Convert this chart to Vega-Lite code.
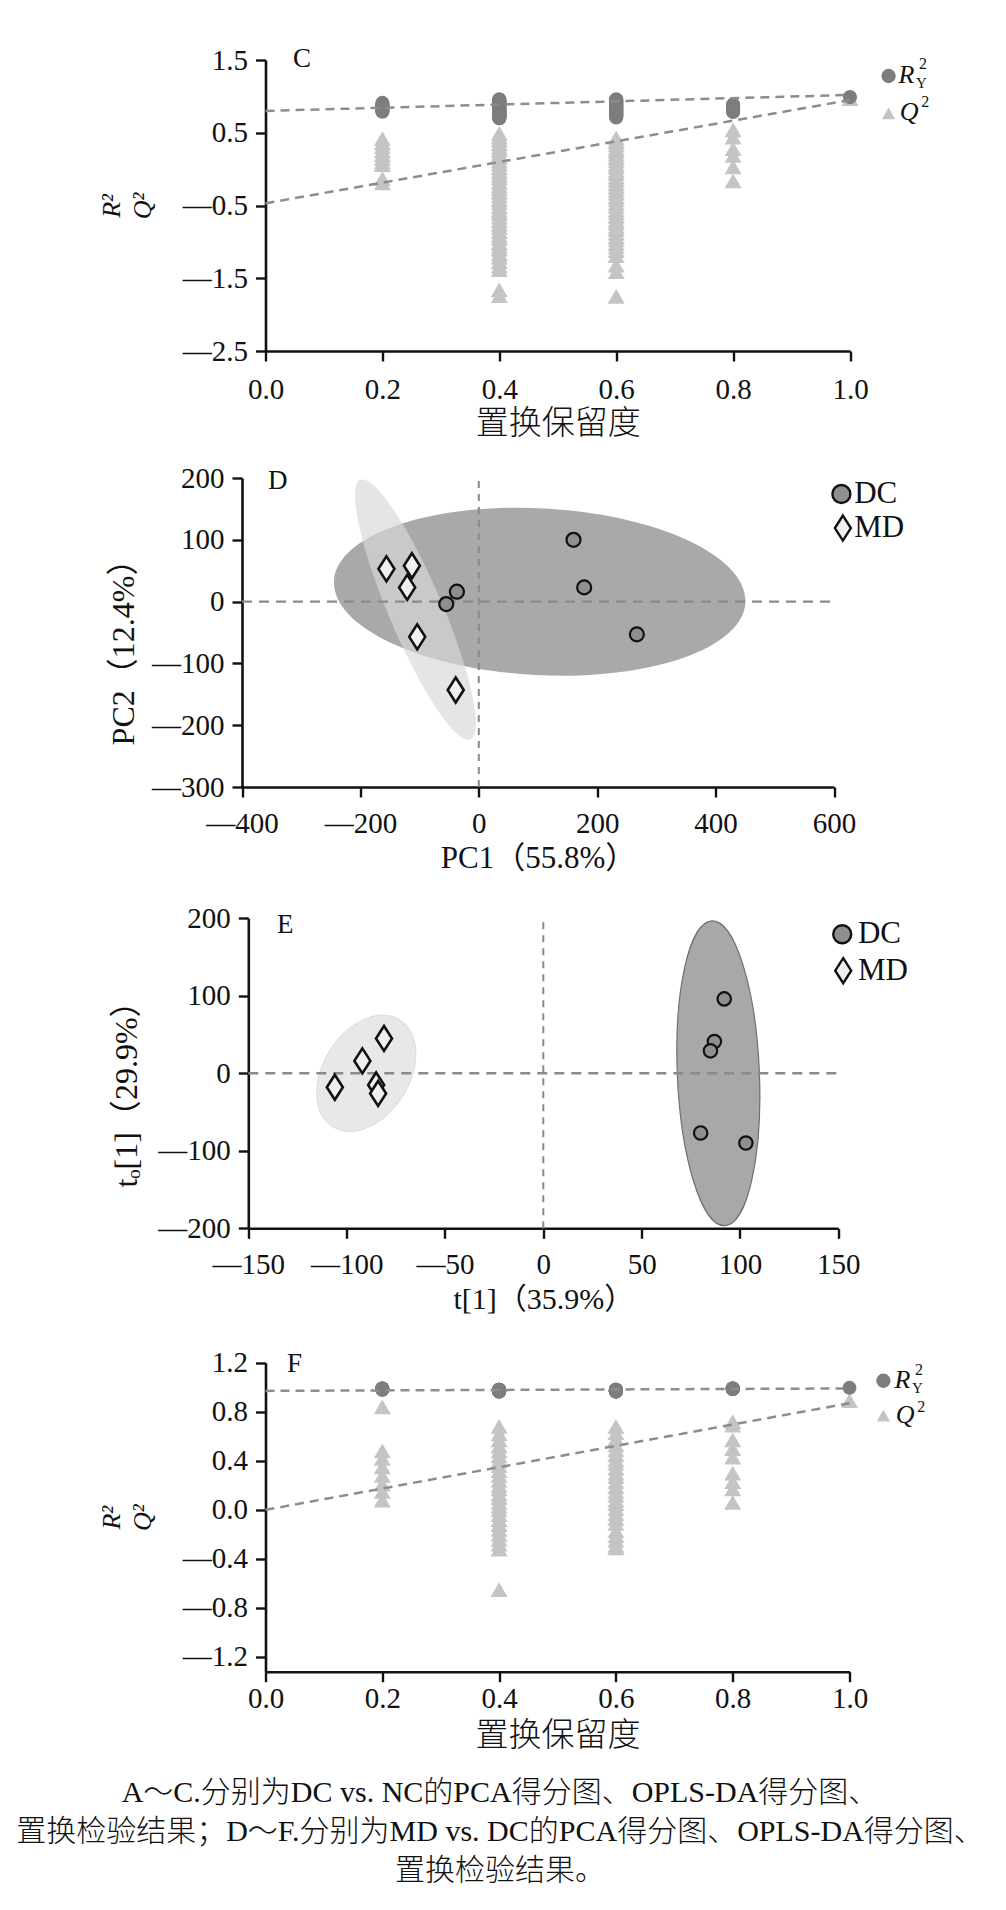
{
  "$schema": "https://vega.github.io/schema/vega-lite/v6.json",
  "autosize": "none",
  "padding": {"left": 265.5, "top": 60, "right": 740.5, "bottom": 1850},
  "background": "white",
  "bounds": "flush",
  "spacing": 127,
  "datasets": {
    "permC": [
      {"x": 0.2, "r2": 0.91, "q2": 0.42}, {"x": 0.2, "r2": 0.90, "q2": 0.36}, {"x": 0.2, "r2": 0.88, "q2": 0.31}, {"x": 0.2, "r2": 0.87, "q2": 0.25}, {"x": 0.2, "r2": 0.86, "q2": 0.20},
      {"x": 0.2, "r2": 0.84, "q2": 0.15}, {"x": 0.2, "r2": 0.83, "q2": 0.10}, {"x": 0.2, "r2": 0.81, "q2": 0.06}, {"x": 0.2, "r2": 0.80, "q2": -0.13}, {"x": 0.2, "r2": 0.79, "q2": -0.19},
      {"x": 0.4, "r2": 0.95, "q2": 0.49}, {"x": 0.4, "r2": 0.93, "q2": 0.44}, {"x": 0.4, "r2": 0.96, "q2": 0.40}, {"x": 0.4, "r2": 0.91, "q2": 0.35}, {"x": 0.4, "r2": 0.94, "q2": 0.30},
      {"x": 0.4, "r2": 0.89, "q2": 0.26}, {"x": 0.4, "r2": 0.92, "q2": 0.21}, {"x": 0.4, "r2": 0.88, "q2": 0.16}, {"x": 0.4, "r2": 0.90, "q2": 0.11}, {"x": 0.4, "r2": 0.86, "q2": 0.07},
      {"x": 0.4, "r2": 0.93, "q2": 0.02}, {"x": 0.4, "r2": 0.84, "q2": -0.03}, {"x": 0.4, "r2": 0.87, "q2": -0.08}, {"x": 0.4, "r2": 0.82, "q2": -0.12}, {"x": 0.4, "r2": 0.89, "q2": -0.18},
      {"x": 0.4, "r2": 0.80, "q2": -0.23}, {"x": 0.4, "r2": 0.85, "q2": -0.27}, {"x": 0.4, "r2": 0.78, "q2": -0.32}, {"x": 0.4, "r2": 0.83, "q2": -0.37}, {"x": 0.4, "r2": 0.76, "q2": -0.42},
      {"x": 0.4, "r2": 0.81, "q2": -0.46}, {"x": 0.4, "r2": 0.74, "q2": -0.52}, {"x": 0.4, "r2": 0.79, "q2": -0.57}, {"x": 0.4, "r2": 0.72, "q2": -0.61}, {"x": 0.4, "r2": 0.77, "q2": -0.66},
      {"x": 0.4, "r2": 0.70, "q2": -0.71}, {"x": 0.4, "r2": 0.75, "q2": -0.76}, {"x": 0.4, "r2": 0.73, "q2": -0.80}, {"x": 0.4, "r2": 0.71, "q2": -0.86}, {"x": 0.4, "r2": 0.86, "q2": -0.91},
      {"x": 0.4, "r2": 0.84, "q2": -0.95}, {"x": 0.4, "r2": 0.80, "q2": -1.01}, {"x": 0.4, "r2": 0.78, "q2": -1.06}, {"x": 0.4, "r2": 0.76, "q2": -1.10}, {"x": 0.4, "r2": 0.74, "q2": -1.16},
      {"x": 0.4, "r2": 0.72, "q2": -1.21}, {"x": 0.4, "r2": 0.70, "q2": -1.27}, {"x": 0.4, "r2": 0.82, "q2": -1.33}, {"x": 0.4, "r2": 0.79, "q2": -1.38}, {"x": 0.4, "r2": 0.75, "q2": -1.66},
      {"x": 0.4, "r2": 0.73, "q2": -1.74},
      {"x": 0.6, "r2": 0.96, "q2": 0.43}, {"x": 0.6, "r2": 0.94, "q2": 0.38}, {"x": 0.6, "r2": 0.92, "q2": 0.34}, {"x": 0.6, "r2": 0.95, "q2": 0.29}, {"x": 0.6, "r2": 0.90, "q2": 0.25},
      {"x": 0.6, "r2": 0.93, "q2": 0.21}, {"x": 0.6, "r2": 0.88, "q2": 0.16}, {"x": 0.6, "r2": 0.91, "q2": 0.12}, {"x": 0.6, "r2": 0.86, "q2": 0.07}, {"x": 0.6, "r2": 0.89, "q2": 0.03},
      {"x": 0.6, "r2": 0.84, "q2": -0.02}, {"x": 0.6, "r2": 0.87, "q2": -0.06}, {"x": 0.6, "r2": 0.82, "q2": -0.11}, {"x": 0.6, "r2": 0.85, "q2": -0.15}, {"x": 0.6, "r2": 0.80, "q2": -0.20},
      {"x": 0.6, "r2": 0.83, "q2": -0.24}, {"x": 0.6, "r2": 0.78, "q2": -0.29}, {"x": 0.6, "r2": 0.81, "q2": -0.33}, {"x": 0.6, "r2": 0.76, "q2": -0.38}, {"x": 0.6, "r2": 0.79, "q2": -0.42},
      {"x": 0.6, "r2": 0.74, "q2": -0.47}, {"x": 0.6, "r2": 0.77, "q2": -0.51}, {"x": 0.6, "r2": 0.72, "q2": -0.56}, {"x": 0.6, "r2": 0.75, "q2": -0.60}, {"x": 0.6, "r2": 0.71, "q2": -0.65},
      {"x": 0.6, "r2": 0.73, "q2": -0.70}, {"x": 0.6, "r2": 0.90, "q2": -0.74}, {"x": 0.6, "r2": 0.88, "q2": -0.79}, {"x": 0.6, "r2": 0.86, "q2": -0.83}, {"x": 0.6, "r2": 0.84, "q2": -0.88},
      {"x": 0.6, "r2": 0.82, "q2": -0.93}, {"x": 0.6, "r2": 0.80, "q2": -0.97}, {"x": 0.6, "r2": 0.78, "q2": -1.02}, {"x": 0.6, "r2": 0.76, "q2": -1.07}, {"x": 0.6, "r2": 0.74, "q2": -1.12},
      {"x": 0.6, "r2": 0.72, "q2": -1.19}, {"x": 0.6, "r2": 0.93, "q2": -1.32}, {"x": 0.6, "r2": 0.91, "q2": -1.41}, {"x": 0.6, "r2": 0.87, "q2": -1.75},
      {"x": 0.8, "r2": 0.89, "q2": 0.54}, {"x": 0.8, "r2": 0.87, "q2": 0.44}, {"x": 0.8, "r2": 0.85, "q2": 0.28}, {"x": 0.8, "r2": 0.82, "q2": 0.19}, {"x": 0.8, "r2": 0.80, "q2": 0.03},
      {"x": 0.8, "r2": 0.785, "q2": -0.16},
      {"x": 1.0, "r2": 0.99, "q2": 0.97}
    ],
    "fitC": [
      {"series": "R2Y", "x": 0, "y": 0.80}, {"series": "R2Y", "x": 1, "y": 1.02},
      {"series": "Q2", "x": 0, "y": -0.47}, {"series": "Q2", "x": 1, "y": 0.95}
    ],
    "scoresD": [
      {"group": "DC", "x": 160, "y": 100}, {"group": "DC", "x": 178, "y": 23}, {"group": "DC", "x": 267, "y": -53},
      {"group": "DC", "x": -37, "y": 16}, {"group": "DC", "x": -55, "y": -4},
      {"group": "MD", "x": -156, "y": 53}, {"group": "MD", "x": -113, "y": 58}, {"group": "MD", "x": -121, "y": 23},
      {"group": "MD", "x": -104, "y": -57}, {"group": "MD", "x": -39, "y": -143}
    ],
    "ellipseD": [
      {"group": "DC", "x": 103, "y": 16},
      {"group": "MD", "x": -107, "y": -13}
    ],
    "scoresE": [
      {"group": "DC", "x": 92, "y": 96}, {"group": "DC", "x": 87, "y": 41}, {"group": "DC", "x": 85, "y": 29},
      {"group": "DC", "x": 80, "y": -77}, {"group": "DC", "x": 103, "y": -90},
      {"group": "MD", "x": -81, "y": 45}, {"group": "MD", "x": -92, "y": 16}, {"group": "MD", "x": -106, "y": -18},
      {"group": "MD", "x": -85, "y": -15}, {"group": "MD", "x": -84, "y": -26}
    ],
    "ellipseE": [
      {"group": "DC", "x": 89, "y": 0},
      {"group": "MD", "x": -90, "y": 0}
    ],
    "permF": [
      {"x": 0.2, "r2": 0.99, "q2": 0.84}, {"x": 0.2, "r2": 0.985, "q2": 0.48}, {"x": 0.2, "r2": 0.99, "q2": 0.42}, {"x": 0.2, "r2": 0.98, "q2": 0.35},
      {"x": 0.2, "r2": 0.99, "q2": 0.28}, {"x": 0.2, "r2": 0.985, "q2": 0.21}, {"x": 0.2, "r2": 0.99, "q2": 0.15}, {"x": 0.2, "r2": 0.98, "q2": 0.08},
      {"x": 0.4, "r2": 0.975, "q2": 0.68}, {"x": 0.4, "r2": 0.97, "q2": 0.62}, {"x": 0.4, "r2": 0.98, "q2": 0.57}, {"x": 0.4, "r2": 0.975, "q2": 0.52},
      {"x": 0.4, "r2": 0.965, "q2": 0.48}, {"x": 0.4, "r2": 0.97, "q2": 0.44}, {"x": 0.4, "r2": 0.98, "q2": 0.40}, {"x": 0.4, "r2": 0.975, "q2": 0.36},
      {"x": 0.4, "r2": 0.97, "q2": 0.32}, {"x": 0.4, "r2": 0.965, "q2": 0.28}, {"x": 0.4, "r2": 0.975, "q2": 0.24}, {"x": 0.4, "r2": 0.98, "q2": 0.20},
      {"x": 0.4, "r2": 0.97, "q2": 0.17}, {"x": 0.4, "r2": 0.975, "q2": 0.13}, {"x": 0.4, "r2": 0.965, "q2": 0.10}, {"x": 0.4, "r2": 0.97, "q2": 0.06},
      {"x": 0.4, "r2": 0.98, "q2": 0.03}, {"x": 0.4, "r2": 0.975, "q2": 0.00}, {"x": 0.4, "r2": 0.97, "q2": -0.04}, {"x": 0.4, "r2": 0.965, "q2": -0.08},
      {"x": 0.4, "r2": 0.975, "q2": -0.12}, {"x": 0.4, "r2": 0.98, "q2": -0.16}, {"x": 0.4, "r2": 0.97, "q2": -0.20}, {"x": 0.4, "r2": 0.975, "q2": -0.24},
      {"x": 0.4, "r2": 0.97, "q2": -0.28}, {"x": 0.4, "r2": 0.965, "q2": -0.32}, {"x": 0.4, "r2": 0.975, "q2": -0.65},
      {"x": 0.6, "r2": 0.975, "q2": 0.68}, {"x": 0.6, "r2": 0.97, "q2": 0.63}, {"x": 0.6, "r2": 0.98, "q2": 0.58}, {"x": 0.6, "r2": 0.975, "q2": 0.53},
      {"x": 0.6, "r2": 0.965, "q2": 0.49}, {"x": 0.6, "r2": 0.97, "q2": 0.45}, {"x": 0.6, "r2": 0.98, "q2": 0.41}, {"x": 0.6, "r2": 0.975, "q2": 0.38},
      {"x": 0.6, "r2": 0.97, "q2": 0.34}, {"x": 0.6, "r2": 0.965, "q2": 0.30}, {"x": 0.6, "r2": 0.975, "q2": 0.27}, {"x": 0.6, "r2": 0.98, "q2": 0.23},
      {"x": 0.6, "r2": 0.97, "q2": 0.19}, {"x": 0.6, "r2": 0.975, "q2": 0.15}, {"x": 0.6, "r2": 0.965, "q2": 0.12}, {"x": 0.6, "r2": 0.97, "q2": 0.08},
      {"x": 0.6, "r2": 0.98, "q2": 0.05}, {"x": 0.6, "r2": 0.975, "q2": 0.01}, {"x": 0.6, "r2": 0.97, "q2": -0.03}, {"x": 0.6, "r2": 0.965, "q2": -0.07},
      {"x": 0.6, "r2": 0.975, "q2": -0.11}, {"x": 0.6, "r2": 0.98, "q2": -0.17}, {"x": 0.6, "r2": 0.97, "q2": -0.21}, {"x": 0.6, "r2": 0.975, "q2": -0.25},
      {"x": 0.6, "r2": 0.97, "q2": -0.29}, {"x": 0.6, "r2": 0.965, "q2": -0.31},
      {"x": 0.8, "r2": 0.99, "q2": 0.72}, {"x": 0.8, "r2": 0.985, "q2": 0.69}, {"x": 0.8, "r2": 0.99, "q2": 0.57}, {"x": 0.8, "r2": 0.985, "q2": 0.50},
      {"x": 0.8, "r2": 0.99, "q2": 0.43}, {"x": 0.8, "r2": 0.985, "q2": 0.30}, {"x": 0.8, "r2": 0.99, "q2": 0.23}, {"x": 0.8, "r2": 0.985, "q2": 0.17},
      {"x": 0.8, "r2": 0.99, "q2": 0.06},
      {"x": 1.0, "r2": 0.995, "q2": 0.89}
    ],
    "fitF": [
      {"series": "R2Y", "x": 0, "y": 0.97}, {"series": "R2Y", "x": 1, "y": 0.99},
      {"series": "Q2", "x": 0, "y": 0.0}, {"series": "Q2", "x": 1, "y": 0.87}
    ],
    "caption": [
      {"line": 1, "text": "A～C.分别为DC vs. NC的PCA得分图、OPLS-DA得分图、"},
      {"line": 2, "text": "置换检验结果；D～F.分别为MD vs. DC的PCA得分图、OPLS-DA得分图、"},
      {"line": 3, "text": "置换检验结果。"}
    ]
  },
  "vconcat": [
    {
      "width": 584.5,
      "height": 291,
      "layer": [
        {
          "data": {"name": "permC"},
          "mark": {"type": "point", "shape": "triangle-up", "filled": true, "color": "#c4c4c4", "size": 289, "opacity": 1},
          "encoding": {
            "x": {"field": "x", "type": "quantitative", "scale": {"domain": [0, 1], "nice": false},
              "axis": {"values": [0, 0.2, 0.4, 0.6, 0.8, 1], "format": ".1f", "labelPadding": 14, "title": "置换保留度", "titleFontSize": 33, "titleFontWeight": 300, "titlePadding": 3}},
            "y": {"field": "q2", "type": "quantitative", "scale": {"domain": [-2.5, 1.5], "nice": false},
              "axis": {"values": [-2.5, -1.5, -0.5, 0.5, 1.5], "format": ".1f", "labelExpr": "replace(replace(datum.label, '-', '—'), '−', '—')",
                "title": ["R²", "Q²"], "titleFontStyle": "italic", "titleFontSize": 26, "titleLineHeight": 31, "titlePadding": 27}}
          }
        },
        {
          "data": {"name": "permC"},
          "mark": {"type": "point", "shape": "circle", "filled": true, "color": "#7d7d7d", "size": 200, "opacity": 1},
          "encoding": {
            "x": {"field": "x", "type": "quantitative"},
            "y": {"field": "r2", "type": "quantitative"}
          }
        },
        {
          "data": {"name": "fitC"},
          "mark": {"type": "line", "strokeDash": [9, 6], "strokeWidth": 2.5, "color": "#8d8d8d"},
          "encoding": {
            "x": {"field": "x", "type": "quantitative"},
            "y": {"field": "y", "type": "quantitative"},
            "detail": {"field": "series"}
          }
        },
        {
          "data": {"values": [{}]},
          "mark": {"type": "text", "text": "C", "font": "Liberation Serif", "fontSize": 27, "align": "left", "baseline": "middle", "color": "#111"},
          "encoding": {"x": {"datum": 0.047}, "y": {"datum": 1.52}}
        },
        {
          "data": {"values": [{}]},
          "mark": {"type": "point", "shape": "circle", "filled": true, "color": "#7d7d7d", "size": 205, "opacity": 1},
          "encoding": {"x": {"datum": 1.066}, "y": {"datum": 1.28}}
        },
        {
          "data": {"values": [{}]},
          "mark": {"type": "text", "text": "R", "font": "Liberation Serif", "fontStyle": "italic", "fontSize": 26, "align": "left", "baseline": "middle", "color": "#111"},
          "encoding": {"x": {"datum": 1.083}, "y": {"datum": 1.29}}
        },
        {
          "data": {"values": [{}]},
          "mark": {"type": "text", "text": "2", "font": "Liberation Serif", "fontSize": 16, "align": "left", "baseline": "middle", "color": "#111"},
          "encoding": {"x": {"datum": 1.118}, "y": {"datum": 1.44}}
        },
        {
          "data": {"values": [{}]},
          "mark": {"type": "text", "text": "Y", "font": "Liberation Serif", "fontSize": 15, "align": "left", "baseline": "middle", "color": "#111"},
          "encoding": {"x": {"datum": 1.113}, "y": {"datum": 1.19}}
        },
        {
          "data": {"values": [{}]},
          "mark": {"type": "point", "shape": "triangle-up", "filled": true, "color": "#c4c4c4", "size": 180, "opacity": 1},
          "encoding": {"x": {"datum": 1.066}, "y": {"datum": 0.767}}
        },
        {
          "data": {"values": [{}]},
          "mark": {"type": "text", "text": "Q", "font": "Liberation Serif", "fontStyle": "italic", "fontSize": 26, "align": "left", "baseline": "middle", "color": "#111"},
          "encoding": {"x": {"datum": 1.085}, "y": {"datum": 0.785}}
        },
        {
          "data": {"values": [{}]},
          "mark": {"type": "text", "text": "2", "font": "Liberation Serif", "fontSize": 16, "align": "left", "baseline": "middle", "color": "#111"},
          "encoding": {"x": {"datum": 1.122}, "y": {"datum": 0.927}}
        }
      ]
    },
    {
      "width": 568.5,
      "height": 309,
      "layer": [
        {
          "data": {"name": "ellipseD"},
          "transform": [{"filter": "datum.group === 'DC'"}],
          "mark": {"type": "point", "shape": "M-1,0C-1,-0.2237,-0.5523,-0.405,0,-0.405C0.5523,-0.405,1,-0.2237,1,0C1,0.2237,0.5523,0.405,0,0.405C-0.5523,0.405,-1,0.2237,-1,0Z",
            "filled": true, "fill": "#a9a9ab", "strokeWidth": 0, "size": 169744, "angle": 3, "opacity": 1},
          "encoding": {
            "x": {"field": "x", "type": "quantitative", "scale": {"domain": [-400, 600], "range": [-23.5, 568.5], "nice": false},
              "axis": {"values": [-400, -200, 0, 200, 400, 600], "format": "d", "labelExpr": "replace(replace(datum.label, '-', '—'), '−', '—')", "labelPadding": 12,
                "title": "PC1（55.8%）", "titleFontSize": 31, "titlePadding": 5}},
            "y": {"field": "y", "type": "quantitative", "scale": {"domain": [-300, 200], "nice": false},
              "axis": {"values": [-300, -200, -100, 0, 100, 200], "format": "d", "offset": 23.5, "labelExpr": "replace(replace(datum.label, '-', '—'), '−', '—')",
                "title": "PC2（12.4%）", "titleFontSize": 32, "titlePadding": 11, "titleY": 166}}
          }
        },
        {
          "data": {"name": "ellipseD"},
          "transform": [{"filter": "datum.group === 'MD'"}],
          "mark": {"type": "point", "shape": "M-1,0C-1,-0.1055,-0.5523,-0.191,0,-0.191C0.5523,-0.191,1,-0.1055,1,0C1,0.1055,0.5523,0.191,0,0.191C-0.5523,0.191,-1,0.1055,-1,0Z",
            "filled": true, "fill": "#d8d8d8", "strokeWidth": 0, "size": 79524, "angle": 67, "opacity": 0.67},
          "encoding": {"x": {"field": "x", "type": "quantitative"}, "y": {"field": "y", "type": "quantitative"}}
        },
        {
          "data": {"values": [{}]},
          "mark": {"type": "rule", "strokeDash": [10, 7], "strokeWidth": 2.4, "color": "#8a8a8a"},
          "encoding": {"x": {"datum": -400}, "x2": {"datum": 600}, "y": {"datum": 0}}
        },
        {
          "data": {"values": [{}]},
          "mark": {"type": "rule", "strokeDash": [7, 6], "strokeWidth": 2, "color": "#8a8a8a"},
          "encoding": {"x": {"datum": 0}, "y": {"datum": -300}, "y2": {"datum": 200}}
        },
        {
          "data": {"name": "scoresD"},
          "transform": [{"filter": "datum.group === 'DC'"}],
          "mark": {"type": "point", "shape": "circle", "filled": true, "fill": "#8f8f8f", "stroke": "#111", "strokeWidth": 2.2, "size": 196, "opacity": 1},
          "encoding": {"x": {"field": "x", "type": "quantitative"}, "y": {"field": "y", "type": "quantitative"}}
        },
        {
          "data": {"name": "scoresD"},
          "transform": [{"filter": "datum.group === 'MD'"}],
          "mark": {"type": "point", "shape": "M0,-1L0.64,0L0,1L-0.64,0Z", "filled": true, "fill": "#efefef", "stroke": "#111", "strokeWidth": 2.6, "size": 625, "opacity": 1},
          "encoding": {"x": {"field": "x", "type": "quantitative"}, "y": {"field": "y", "type": "quantitative"}}
        },
        {
          "data": {"values": [{}]},
          "mark": {"type": "text", "text": "D", "font": "Liberation Serif", "fontSize": 27, "align": "left", "baseline": "middle", "color": "#111"},
          "encoding": {"x": {"datum": -356}, "y": {"datum": 195}}
        },
        {
          "data": {"values": [{}]},
          "mark": {"type": "point", "shape": "circle", "filled": true, "fill": "#8f8f8f", "stroke": "#111", "strokeWidth": 2.4, "size": 324, "opacity": 1},
          "encoding": {"x": {"datum": 612.5}, "y": {"datum": 174}}
        },
        {
          "data": {"values": [{}]},
          "mark": {"type": "text", "text": "DC", "font": "Liberation Serif", "fontSize": 31, "align": "left", "baseline": "middle", "color": "#111"},
          "encoding": {"x": {"datum": 634}, "y": {"datum": 174}}
        },
        {
          "data": {"values": [{}]},
          "mark": {"type": "point", "shape": "M0,-1L0.64,0L0,1L-0.64,0Z", "filled": true, "fill": "#efefef", "stroke": "#111", "strokeWidth": 2.4, "size": 625, "opacity": 1},
          "encoding": {"x": {"datum": 615}, "y": {"datum": 119}}
        },
        {
          "data": {"values": [{}]},
          "mark": {"type": "text", "text": "MD", "font": "Liberation Serif", "fontSize": 31, "align": "left", "baseline": "middle", "color": "#111"},
          "encoding": {"x": {"datum": 634}, "y": {"datum": 119}}
        }
      ]
    },
    {
      "width": 572.8,
      "height": 314.3,
      "layer": [
        {
          "data": {"name": "ellipseE"},
          "transform": [{"filter": "datum.group === 'DC'"}],
          "mark": {"type": "point", "shape": "M-1,0C-1,-0.1486,-0.5523,-0.269,0,-0.269C0.5523,-0.269,1,-0.1486,1,0C1,0.1486,0.5523,0.269,0,0.269C-0.5523,0.269,-1,0.1486,-1,0Z",
            "filled": true, "fill": "#a8a8aa", "stroke": "#6f6f6f", "strokeWidth": 1.2, "size": 93025, "angle": 87.6, "opacity": 1},
          "encoding": {
            "x": {"field": "x", "type": "quantitative", "scale": {"domain": [-150, 150], "range": [-17.2, 572.8], "nice": false},
              "axis": {"values": [-150, -100, -50, 0, 50, 100, 150], "format": "d", "labelExpr": "replace(replace(datum.label, '-', '—'), '−', '—')", "labelPadding": 12,
                "title": "t[1]（35.9%）", "titleFontSize": 30, "titlePadding": 5}},
            "y": {"field": "y", "type": "quantitative", "scale": {"domain": [-200, 200], "range": [314.3, 4.3], "nice": false},
              "axis": {"values": [-200, -100, 0, 100, 200], "format": "d", "offset": 17.2, "labelExpr": "replace(replace(datum.label, '-', '—'), '−', '—')",
                "title": "tₒ[1]（29.9%）", "titleFontSize": 32, "titlePadding": 14, "titleY": 172}}
          }
        },
        {
          "data": {"name": "ellipseE"},
          "transform": [{"filter": "datum.group === 'MD'"}],
          "mark": {"type": "point", "shape": "M-1,0C-1,-0.3772,-0.5523,-0.683,0,-0.683C0.5523,-0.683,1,-0.3772,1,0C1,0.3772,0.5523,0.683,0,0.683C-0.5523,0.683,-1,0.3772,-1,0Z",
            "filled": true, "fill": "#e8e8e8", "stroke": "#dcdcdc", "strokeWidth": 1, "size": 15876, "angle": 302.3, "opacity": 1},
          "encoding": {"x": {"field": "x", "type": "quantitative"}, "y": {"field": "y", "type": "quantitative"}}
        },
        {
          "data": {"values": [{}]},
          "mark": {"type": "rule", "strokeDash": [10, 7], "strokeWidth": 2.4, "color": "#8a8a8a"},
          "encoding": {"x": {"datum": -150}, "x2": {"datum": 150}, "y": {"datum": 0}}
        },
        {
          "data": {"values": [{}]},
          "mark": {"type": "rule", "strokeDash": [7, 6], "strokeWidth": 2, "color": "#8a8a8a"},
          "encoding": {"x": {"datum": 0}, "y": {"datum": -200}, "y2": {"datum": 200}}
        },
        {
          "data": {"name": "scoresE"},
          "transform": [{"filter": "datum.group === 'DC'"}],
          "mark": {"type": "point", "shape": "circle", "filled": true, "fill": "#8f8f8f", "stroke": "#111", "strokeWidth": 2.2, "size": 180, "opacity": 1},
          "encoding": {"x": {"field": "x", "type": "quantitative"}, "y": {"field": "y", "type": "quantitative"}}
        },
        {
          "data": {"name": "scoresE"},
          "transform": [{"filter": "datum.group === 'MD'"}],
          "mark": {"type": "point", "shape": "M0,-1L0.64,0L0,1L-0.64,0Z", "filled": true, "fill": "#efefef", "stroke": "#111", "strokeWidth": 2.6, "size": 625, "opacity": 1},
          "encoding": {"x": {"field": "x", "type": "quantitative"}, "y": {"field": "y", "type": "quantitative"}}
        },
        {
          "data": {"values": [{}]},
          "mark": {"type": "text", "text": "E", "font": "Liberation Serif", "fontSize": 27, "align": "left", "baseline": "middle", "color": "#111"},
          "encoding": {"x": {"datum": -135.4}, "y": {"datum": 191}}
        },
        {
          "data": {"values": [{}]},
          "mark": {"type": "point", "shape": "circle", "filled": true, "fill": "#8f8f8f", "stroke": "#111", "strokeWidth": 2.4, "size": 324, "opacity": 1},
          "encoding": {"x": {"datum": 152}, "y": {"datum": 179.5}}
        },
        {
          "data": {"values": [{}]},
          "mark": {"type": "text", "text": "DC", "font": "Liberation Serif", "fontSize": 31, "align": "left", "baseline": "middle", "color": "#111"},
          "encoding": {"x": {"datum": 160}, "y": {"datum": 179.5}}
        },
        {
          "data": {"values": [{}]},
          "mark": {"type": "point", "shape": "M0,-1L0.64,0L0,1L-0.64,0Z", "filled": true, "fill": "#efefef", "stroke": "#111", "strokeWidth": 2.4, "size": 625, "opacity": 1},
          "encoding": {"x": {"datum": 152.5}, "y": {"datum": 132.4}}
        },
        {
          "data": {"values": [{}]},
          "mark": {"type": "text", "text": "MD", "font": "Liberation Serif", "fontSize": 31, "align": "left", "baseline": "middle", "color": "#111"},
          "encoding": {"x": {"datum": 160}, "y": {"datum": 132.4}}
        }
      ]
    },
    {
      "width": 584,
      "height": 315.7,
      "layer": [
        {
          "data": {"name": "permF"},
          "mark": {"type": "point", "shape": "triangle-up", "filled": true, "color": "#c4c4c4", "size": 289, "opacity": 1},
          "encoding": {
            "x": {"field": "x", "type": "quantitative", "scale": {"domain": [0, 1], "nice": false},
              "axis": {"values": [0, 0.2, 0.4, 0.6, 0.8, 1], "format": ".1f", "labelPadding": 3, "title": "置换保留度", "titleFontSize": 33, "titleFontWeight": 300, "titlePadding": 6}},
            "y": {"field": "q2", "type": "quantitative", "scale": {"domain": [-1.32, 1.2], "range": [315.7, 6.7], "nice": false},
              "axis": {"values": [-1.2, -0.8, -0.4, 0, 0.4, 0.8, 1.2], "format": ".1f", "labelExpr": "replace(replace(datum.label, '-', '—'), '−', '—')",
                "title": ["R²", "Q²"], "titleFontStyle": "italic", "titleFontSize": 26, "titleLineHeight": 31, "titlePadding": 27}}
          }
        },
        {
          "data": {"name": "permF"},
          "mark": {"type": "point", "shape": "circle", "filled": true, "color": "#7d7d7d", "size": 196, "opacity": 1},
          "encoding": {
            "x": {"field": "x", "type": "quantitative"},
            "y": {"field": "r2", "type": "quantitative"}
          }
        },
        {
          "data": {"name": "fitF"},
          "mark": {"type": "line", "strokeDash": [9, 6], "strokeWidth": 2.5, "color": "#8d8d8d"},
          "encoding": {
            "x": {"field": "x", "type": "quantitative"},
            "y": {"field": "y", "type": "quantitative"},
            "detail": {"field": "series"}
          }
        },
        {
          "data": {"values": [{}]},
          "mark": {"type": "text", "text": "F", "font": "Liberation Serif", "fontSize": 27, "align": "left", "baseline": "middle", "color": "#111"},
          "encoding": {"x": {"datum": 0.037}, "y": {"datum": 1.19}}
        },
        {
          "data": {"values": [{}]},
          "mark": {"type": "point", "shape": "circle", "filled": true, "color": "#7d7d7d", "size": 205, "opacity": 1},
          "encoding": {"x": {"datum": 1.058}, "y": {"datum": 1.053}}
        },
        {
          "data": {"values": [{}]},
          "mark": {"type": "text", "text": "R", "font": "Liberation Serif", "fontStyle": "italic", "fontSize": 26, "align": "left", "baseline": "middle", "color": "#111"},
          "encoding": {"x": {"datum": 1.077}, "y": {"datum": 1.058}}
        },
        {
          "data": {"values": [{}]},
          "mark": {"type": "text", "text": "2", "font": "Liberation Serif", "fontSize": 16, "align": "left", "baseline": "middle", "color": "#111"},
          "encoding": {"x": {"datum": 1.112}, "y": {"datum": 1.14}}
        },
        {
          "data": {"values": [{}]},
          "mark": {"type": "text", "text": "Y", "font": "Liberation Serif", "fontSize": 15, "align": "left", "baseline": "middle", "color": "#111"},
          "encoding": {"x": {"datum": 1.107}, "y": {"datum": 0.99}}
        },
        {
          "data": {"values": [{}]},
          "mark": {"type": "point", "shape": "triangle-up", "filled": true, "color": "#c4c4c4", "size": 180, "opacity": 1},
          "encoding": {"x": {"datum": 1.058}, "y": {"datum": 0.768}}
        },
        {
          "data": {"values": [{}]},
          "mark": {"type": "text", "text": "Q", "font": "Liberation Serif", "fontStyle": "italic", "fontSize": 26, "align": "left", "baseline": "middle", "color": "#111"},
          "encoding": {"x": {"datum": 1.079}, "y": {"datum": 0.77}}
        },
        {
          "data": {"values": [{}]},
          "mark": {"type": "text", "text": "2", "font": "Liberation Serif", "fontSize": 16, "align": "left", "baseline": "middle", "color": "#111"},
          "encoding": {"x": {"datum": 1.116}, "y": {"datum": 0.84}}
        }
      ]
    },
    {
      "width": 469,
      "height": 80,
      "data": {"name": "caption"},
      "mark": {"type": "text", "font": "Liberation Serif, Noto Sans CJK SC", "fontSize": 30, "fontWeight": 300, "align": "center", "baseline": "middle", "color": "#111"},
      "encoding": {
        "y": {"field": "line", "type": "ordinal", "scale": {"type": "point", "range": [-6.4, 71.5], "padding": 0}, "axis": null},
        "text": {"field": "text"}
      }
    }
  ],
  "config": {
    "view": {"stroke": null},
    "axis": {
      "domainColor": "#111", "domainWidth": 2.6, "tickColor": "#111", "tickWidth": 2.4, "tickSize": 10,
      "labelFont": "Liberation Serif", "labelFontSize": 29, "labelColor": "#111", "labelPadding": 8,
      "labelFlush": false, "labelOverlap": false, "labelBound": false,
      "titleFont": "Liberation Serif, Noto Sans CJK SC", "titleFontSize": 28, "titleFontWeight": "normal", "titleColor": "#111",
      "grid": false
    }
  }
}
